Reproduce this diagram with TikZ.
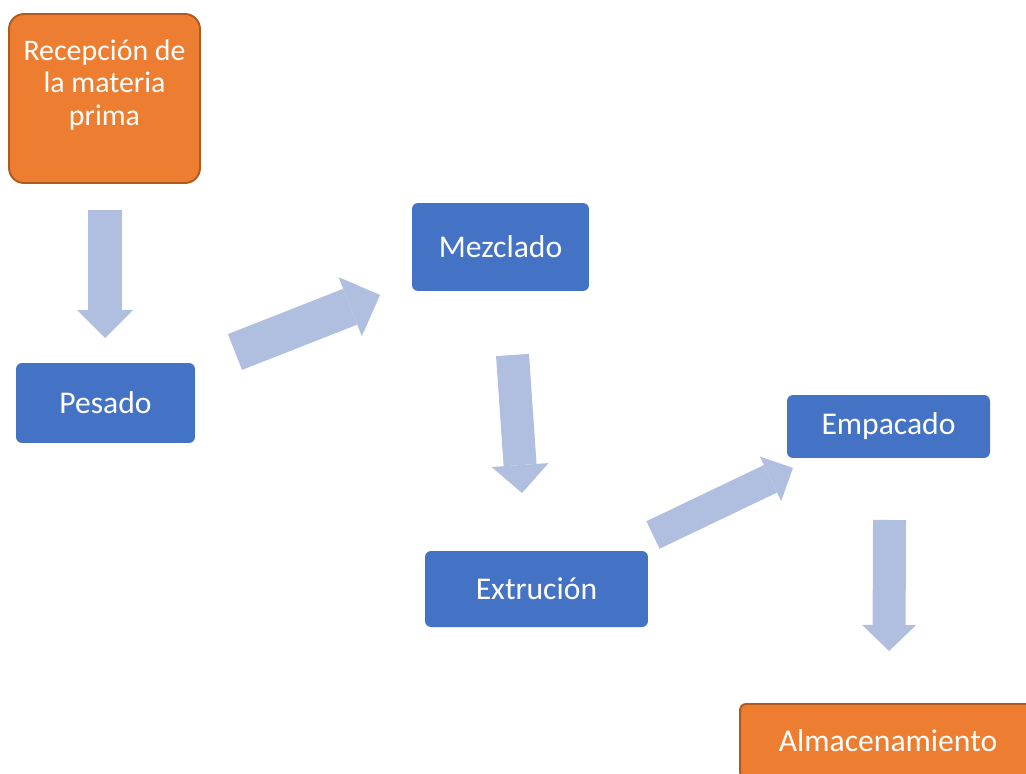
\documentclass[tikz,border=0pt]{standalone}
\usepackage{fontspec}
\setmainfont{Carlito}
\usetikzlibrary{arrows.meta}
\definecolor{orangefill}{RGB}{237,125,49}
\definecolor{orangeline}{RGB}{174,90,33}
\definecolor{bluefill}{RGB}{68,114,196}
\definecolor{arrowc}{RGB}{176,190,224}
\begin{document}
\begin{tikzpicture}[x=0.02cm, y=-0.02cm,
	every node/.style={font=\fontsize{18}{18.5}\selectfont, text=white, align=center},
	bluebox/.style={fill=bluefill, rounded corners=0.12cm, inner sep=0pt},
	orangebox/.style={fill=orangefill, draw=orangeline, line width=1.1pt, inner sep=0pt},
	flow/.style n args={3}{draw=arrowc, line width=#1,
		-{Triangle[length=#3, width=#2, line width=0pt, fill=arrowc]}}]
	\useasboundingbox (0,0) rectangle (1026,773);
	\clip (0,0) rectangle (1026,773);

	\node[orangebox, rounded corners=0.3cm, minimum width=3.82cm, minimum height=3.38cm] (rec) at (104.5,98.5) {};
	\node[font=\fontsize{17}{18.4}\selectfont] (rectxt) at (104.5,85) {Recepción de\\la materia\\prima};
	\node[bluebox, minimum width=3.58cm, minimum height=1.6cm] (pes) at (105.5,403) {Pesado};
	\node[bluebox, minimum width=3.54cm, minimum height=1.76cm] (mez) at (500.5,247) {Mezclado};
	\node[bluebox, minimum width=4.46cm, minimum height=1.52cm] (ext) at (536.5,589) {Extrución};
	\node[bluebox, minimum width=4.06cm, minimum height=1.26cm] (emp) at (888.5,426.5) {Empacado};
	\node[orangebox, rounded corners=0.12cm, minimum width=5.92cm, minimum height=1.48cm] (alm) at (888,741) {Almacenamiento};

	\coordinate (a1s) at (105,210);   \coordinate (a1e) at (105,338);
	\coordinate (a2s) at (235,352);   \coordinate (a2e) at (380,295);
	\coordinate (a3s) at (512.5,355); \coordinate (a3e) at (522,493);
	\coordinate (a4s) at (653,535);   \coordinate (a4e) at (793,468);
	\coordinate (a5s) at (889.5,520); \coordinate (a5e) at (889,651);

	\draw[flow={0.68cm}{1.12cm}{0.56cm}] (a1s) -- (a1e);
	\draw[flow={0.77cm}{1.27cm}{0.64cm}] (a2s) -- (a2e);
	\draw[flow={0.66cm}{1.14cm}{0.56cm}] (a3s) -- (a3e);
	\draw[flow={0.61cm}{0.99cm}{0.5cm}] (a4s) -- (a4e);
	\draw[flow={0.66cm}{1.08cm}{0.52cm}] (a5s) -- (a5e);
\end{tikzpicture}
\end{document}
